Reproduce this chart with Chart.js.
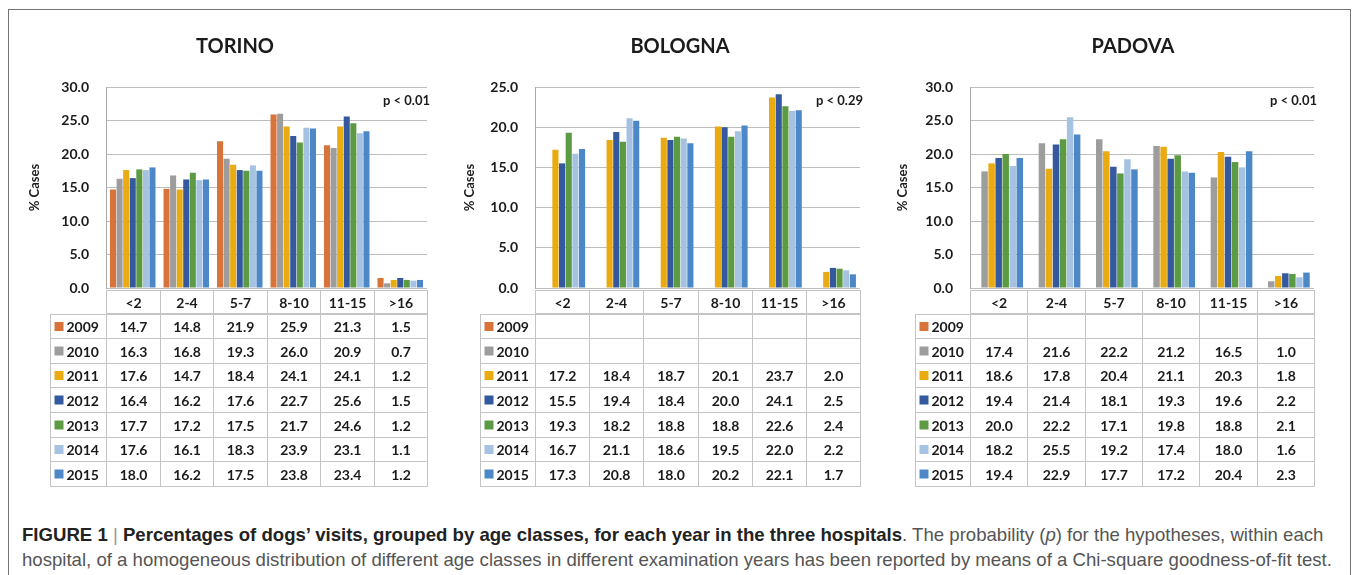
<!DOCTYPE html>
<html>
<head>
<meta charset="utf-8">
<script src="https://cdn.jsdelivr.net/npm/chart.js@4.4.1/dist/chart.umd.min.js"></script>
<style>
  body { margin: 0; background: #fff; width: 1356px; height: 575px; overflow: hidden; position: relative; }
  .frame { position: absolute; left: 8px; top: 9px; width: 1343px; height: 620px; border: 1px solid #747474; box-sizing: border-box; }
  canvas { position: absolute; }
  .caption { position: absolute; left: 22px; top: 522px; font-family: "Liberation Sans Narrow", "Arial Narrow", "Liberation Sans", sans-serif; font-size: 18.6px; line-height: 25px; color: #555; white-space: nowrap; }
  .caption b { color: #222; }
  .caption .sep { color: #999; font-weight: normal; }
</style>
</head>
<body>
<div class="frame"></div>
<canvas id="torino" width="430" height="462" style="left:20px;top:28px"></canvas>
<canvas id="bologna" width="440" height="462" style="left:449px;top:28px"></canvas>
<canvas id="padova" width="450" height="462" style="left:884px;top:28px"></canvas>
<div class="caption"><b>FIGURE 1</b> <span class="sep">|</span> <b>Percentages of dogs’ visits, grouped by age classes, for each year in the three hospitals</b>. The probability (<i>p</i>) for the hypotheses, within each<br>hospital, of a homogeneous distribution of different age classes in different examination years has been reported by means of a Chi-square goodness-of-fit test.</div>

<script>
const ageClasses = ['<2', '2-4', '5-7', '8-10', '11-15', '>16'];
const years = ['2009', '2010', '2011', '2012', '2013', '2014', '2015'];
const yearColors = ['#d8733a', '#9d9d9d', '#e9aa12', '#34599f', '#5c9a43', '#a6c2e2', '#4c88c7'];

// one row per year, one value per age class (null = no data that year)
const torino = [
  [14.7, 14.8, 21.9, 25.9, 21.3, 1.5],
  [16.3, 16.8, 19.3, 26.0, 20.9, 0.7],
  [17.6, 14.7, 18.4, 24.1, 24.1, 1.2],
  [16.4, 16.2, 17.6, 22.7, 25.6, 1.5],
  [17.7, 17.2, 17.5, 21.7, 24.6, 1.2],
  [17.6, 16.1, 18.3, 23.9, 23.1, 1.1],
  [18.0, 16.2, 17.5, 23.8, 23.4, 1.2]
];
const bologna = [
  [null, null, null, null, null, null],
  [null, null, null, null, null, null],
  [17.2, 18.4, 18.7, 20.1, 23.7, 2.0],
  [15.5, 19.4, 18.4, 20.0, 24.1, 2.5],
  [19.3, 18.2, 18.8, 18.8, 22.6, 2.4],
  [16.7, 21.1, 18.6, 19.5, 22.0, 2.2],
  [17.3, 20.8, 18.0, 20.2, 22.1, 1.7]
];
const padova = [
  [null, null, null, null, null, null],
  [17.4, 21.6, 22.2, 21.2, 16.5, 1.0],
  [18.6, 17.8, 20.4, 21.1, 20.3, 1.8],
  [19.4, 21.4, 18.1, 19.3, 19.6, 2.2],
  [20.0, 22.2, 17.1, 19.8, 18.8, 2.1],
  [18.2, 25.5, 19.2, 17.4, 18.0, 1.6],
  [19.4, 22.9, 17.7, 17.2, 20.4, 2.3]
];

const FONT = 'Lato, "Open Sans", sans-serif';

// draws the hospital name, the p value and the data table under the bars
const panelExtras = {
  id: 'panelExtras',
  afterDraw(chart, args, opts) {
    const { ctx, chartArea } = chart;
    const x = chart.scales.x;
    ctx.save();
    ctx.fillStyle = '#1b1b1b';
    ctx.textBaseline = 'middle';

    ctx.font = 'bold 20px ' + FONT;
    ctx.textAlign = 'center';
    ctx.fillText(opts.title, opts.titleX, 19);

    ctx.font = 'bold 13px ' + FONT;
    ctx.textAlign = 'right';
    ctx.fillText(opts.pText, chartArea.right + 3, chartArea.top + 14);

    const n = chart.data.labels.length;
    const edges = [];
    for (let i = 0; i <= n; i++) edges.push(Math.round(x.getPixelForValue(i - 0.5)) + 0.5);
    const top = Math.round(chartArea.bottom) + 2.5;
    const headH = 23, rowH = 24.6;
    const labelLeft = opts.labelLeft + 0.5;

    ctx.strokeStyle = '#c4c4c4';
    ctx.lineWidth = 1;
    ctx.font = 'bold 14px ' + FONT;
    ctx.textAlign = 'center';
    for (let i = 0; i < n; i++) {
      ctx.strokeRect(edges[i], top, edges[i + 1] - edges[i], headH);
      ctx.fillText(chart.data.labels[i], (edges[i] + edges[i + 1]) / 2, top + headH / 2 + 1);
    }
    chart.data.datasets.forEach((ds, r) => {
      const y = Math.round(top + headH + r * rowH) + 0.5;
      const h = Math.round(top + headH + (r + 1) * rowH) + 0.5 - y;
      ctx.strokeRect(labelLeft, y, edges[0] - labelLeft, h);
      ctx.fillStyle = ds.backgroundColor;
      ctx.fillRect(labelLeft + 4, y + h / 2 - 4.5, 9, 9);
      ctx.fillStyle = '#1b1b1b';
      ctx.textAlign = 'left';
      ctx.fillText(ds.label, labelLeft + 16, y + h / 2 + 1);
      ctx.textAlign = 'center';
      for (let i = 0; i < n; i++) {
        ctx.strokeRect(edges[i], y, edges[i + 1] - edges[i], h);
        const v = ds.data[i];
        if (v != null) ctx.fillText(v.toFixed(1), (edges[i] + edges[i + 1]) / 2, y + h / 2 + 1);
      }
    });
    ctx.restore();
  }
};

function makePanel(id, rows, cfg) {
  new Chart(document.getElementById(id), {
    type: 'bar',
    data: {
      labels: ageClasses,
      datasets: years.map((yr, i) => ({
        label: yr,
        data: rows[i],
        backgroundColor: yearColors[i],
        categoryPercentage: 0.86,
        barPercentage: 0.92
      }))
    },
    options: {
      responsive: false,
      animation: false,
      layout: { padding: { top: 59, right: cfg.padRight, bottom: 202, left: 0 } },
      plugins: {
        legend: { display: false },
        tooltip: { enabled: false },
        panelExtras: cfg
      },
      scales: {
        x: { display: false },
        y: {
          min: 0,
          max: cfg.yMax,
          afterFit: (scale) => { scale.width = 86; },
          ticks: {
            stepSize: 5,
            padding: 17,
            color: '#1b1b1b',
            font: { family: FONT, size: 14, weight: 'bold' },
            callback: (v) => v.toFixed(1)
          },
          grid: { color: '#bdbdbd', drawTicks: false },
          border: { display: true, color: '#a9a9a9' },
          title: {
            display: true,
            text: '% Cases',
            color: '#1b1b1b',
            font: { family: FONT, size: 13, weight: 'bold' },
            padding: { top: cfg.titlePad, bottom: 0 }
          }
        }
      }
    },
    plugins: [panelExtras]
  });
}

makePanel('torino', torino, { title: 'TORINO', titleX: 215, pText: 'p < 0.01', yMax: 30, padRight: 23, labelLeft: 30, titlePad: 7 });
makePanel('bologna', bologna, { title: 'BOLOGNA', titleX: 231, pText: 'p < 0.29', yMax: 25, padRight: 29, labelLeft: 31, titlePad: 13 });
makePanel('padova', padova, { title: 'PADOVA', titleX: 249, pText: 'p < 0.01', yMax: 30, padRight: 20, labelLeft: 31, titlePad: 11 });
</script>
</body>
</html>
